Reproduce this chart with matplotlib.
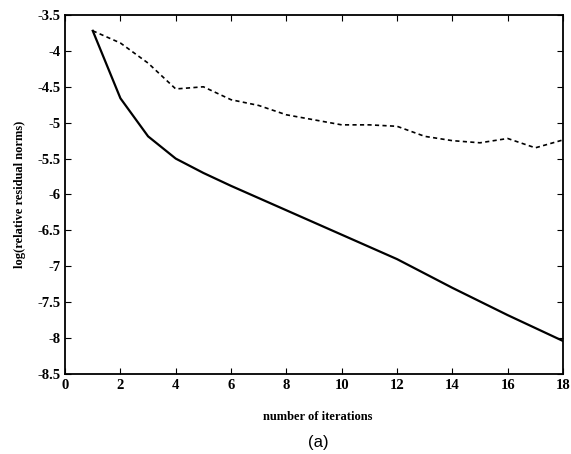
import numpy as np
import matplotlib.pyplot as plt

plt.rcParams['axes.unicode_minus'] = False
plt.rcParams['font.family'] = 'Liberation Serif'

iters = np.arange(1, 19)
solid = [-3.72, -4.66, -5.19, -5.50, -5.70, -5.88, -6.05, -6.22, -6.39,
         -6.56, -6.73, -6.90, -7.10, -7.30, -7.49, -7.68, -7.86, -8.04]
dashed = [-3.72, -3.89, -4.17, -4.53, -4.50, -4.68, -4.76, -4.89, -4.96,
          -5.03, -5.03, -5.05, -5.19, -5.25, -5.28, -5.22, -5.35, -5.24]

fig = plt.figure(figsize=(5.71, 4.54), dpi=100)
ax = fig.add_axes([0.114, 1 - 374 / 454, 0.872, (374 - 15) / 454])

ax.plot(iters, solid, color="black", linewidth=1.6)
ax.plot(iters, dashed, color="black", linewidth=1.2, linestyle=(0, (2.5, 2)))

ax.set_xlim(0, 18)
ax.set_ylim(-8.5, -3.5)
ax.set_xticks(np.arange(0, 19, 2))
ax.set_yticks(np.arange(-8.5, -3.4, 0.5))
ax.set_yticklabels(["-8.5", "-8", "-7.5", "-7", "-6.5", "-6", "-5.5", "-5", "-4.5", "-4", "-3.5"])
ax.tick_params(direction="in", top=True, right=True, length=4, labelsize=10.5)
for lab in ax.get_xticklabels() + ax.get_yticklabels():
    lab.set_fontweight("bold")
for s in ax.spines.values():
    s.set_linewidth(1.3)

ax.set_ylabel("log(relative residual norms)", fontsize=9, fontweight="bold", labelpad=8)
fig.text(0.557, 1 - 417 / 454, "number of iterations", ha="center", va="center",
         fontsize=9, fontweight="bold")
fig.text(0.557, 1 - 442 / 454, "(a)", ha="center", va="center",
         fontsize=12, family="Liberation Sans")

fig.savefig("out.png", dpi=100)
